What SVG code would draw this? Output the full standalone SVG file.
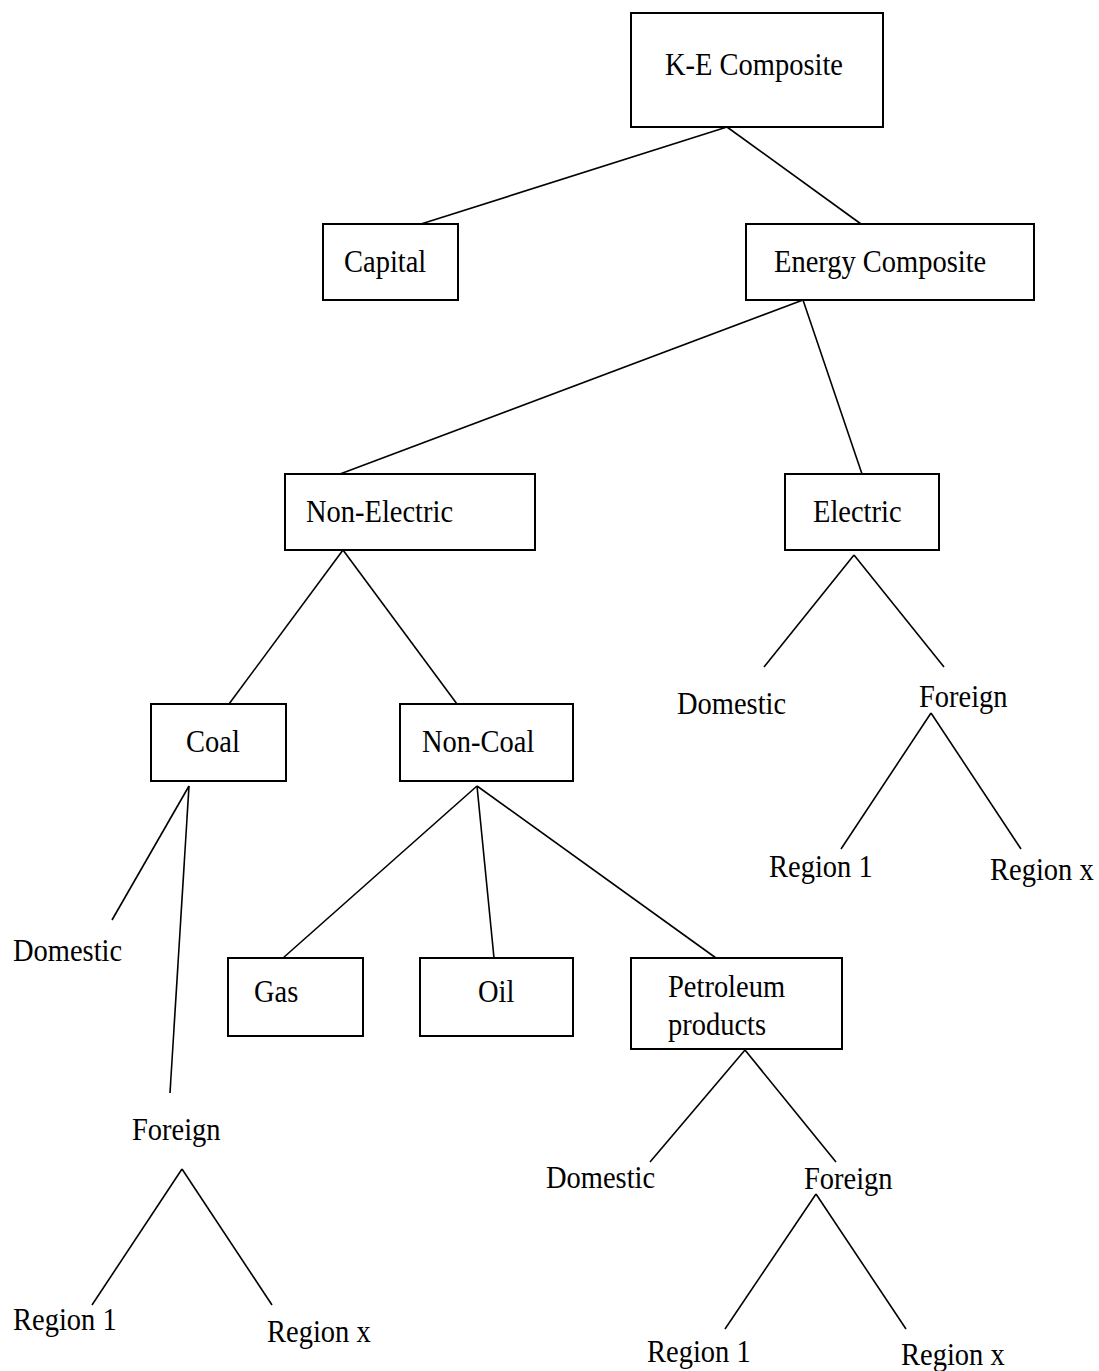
<svg xmlns="http://www.w3.org/2000/svg" width="1099" height="1371" viewBox="0 0 1099 1371">
<style>
.box{fill:#fff;stroke:#000;stroke-width:2}
.ln{stroke:#000;stroke-width:1.6;fill:none}
text{font-family:"Liberation Serif","Times New Roman",serif;font-size:28.5px;fill:#000}
</style>
<rect width="1099" height="1371" fill="#fff"/>
<g id="connectors">
<line class="ln" x1="727" y1="127" x2="421" y2="224"/>
<line class="ln" x1="727" y1="127" x2="861" y2="224"/>
<line class="ln" x1="803" y1="300" x2="340" y2="474"/>
<line class="ln" x1="803" y1="300" x2="862" y2="474"/>
<line class="ln" x1="343" y1="550" x2="229" y2="704"/>
<line class="ln" x1="343" y1="550" x2="457" y2="704"/>
<line class="ln" x1="854" y1="555" x2="764" y2="667"/>
<line class="ln" x1="854" y1="555" x2="944" y2="667"/>
<line class="ln" x1="931" y1="713" x2="841" y2="849"/>
<line class="ln" x1="931" y1="713" x2="1021" y2="849"/>
<line class="ln" x1="189" y1="786" x2="112" y2="920"/>
<line class="ln" x1="189" y1="786" x2="170" y2="1093"/>
<line class="ln" x1="182" y1="1169" x2="92" y2="1305"/>
<line class="ln" x1="182" y1="1169" x2="272" y2="1305"/>
<line class="ln" x1="477" y1="786" x2="283" y2="958"/>
<line class="ln" x1="477" y1="786" x2="494" y2="958"/>
<line class="ln" x1="477" y1="786" x2="716" y2="958"/>
<line class="ln" x1="745" y1="1050" x2="650" y2="1162"/>
<line class="ln" x1="745" y1="1050" x2="836" y2="1162"/>
<line class="ln" x1="816" y1="1194" x2="725" y2="1329"/>
<line class="ln" x1="816" y1="1194" x2="906" y2="1329"/>
</g>
<g id="ke"><rect class="box" x="631" y="13" width="252" height="114"/><text transform="translate(665,75) scale(1,1.1)">K-E Composite</text></g>
<g id="capital"><rect class="box" x="323" y="224" width="135" height="76"/><text transform="translate(344,272) scale(1,1.1)">Capital</text></g>
<g id="energy"><rect class="box" x="746" y="224" width="288" height="76"/><text transform="translate(774,272) scale(1,1.1)">Energy Composite</text></g>
<g id="nonelectric"><rect class="box" x="285" y="474" width="250" height="76"/><text transform="translate(306,522) scale(1,1.1)">Non-Electric</text></g>
<g id="electric"><rect class="box" x="785" y="474" width="154" height="76"/><text transform="translate(813,522) scale(1,1.1)">Electric</text></g>
<g id="el-domestic"><text transform="translate(677,714) scale(1,1.1)">Domestic</text></g>
<g id="el-foreign"><text transform="translate(919,707) scale(1,1.1)">Foreign</text></g>
<g id="el-region1"><text transform="translate(769,877) scale(1,1.1)">Region 1</text></g>
<g id="el-regionx"><text transform="translate(990,880) scale(1,1.1)">Region x</text></g>
<g id="coal"><rect class="box" x="151" y="704" width="135" height="77"/><text transform="translate(186,752) scale(1,1.1)">Coal</text></g>
<g id="noncoal"><rect class="box" x="400" y="704" width="173" height="77"/><text transform="translate(422,752) scale(1,1.1)">Non-Coal</text></g>
<g id="coal-domestic"><text transform="translate(13,961) scale(1,1.1)">Domestic</text></g>
<g id="coal-foreign"><text transform="translate(132,1140) scale(1,1.1)">Foreign</text></g>
<g id="coal-region1"><text transform="translate(13,1330) scale(1,1.1)">Region 1</text></g>
<g id="coal-regionx"><text transform="translate(267,1342) scale(1,1.1)">Region x</text></g>
<g id="gas"><rect class="box" x="228" y="958" width="135" height="78"/><text transform="translate(254,1002) scale(1,1.1)">Gas</text></g>
<g id="oil"><rect class="box" x="420" y="958" width="153" height="78"/><text transform="translate(478,1002) scale(1,1.1)">Oil</text></g>
<g id="petroleum"><rect class="box" x="631" y="958" width="211" height="91"/><text transform="translate(668,997) scale(1,1.1)">Petroleum</text><text transform="translate(668,1035) scale(1,1.1)">products</text></g>
<g id="pp-domestic"><text transform="translate(546,1188) scale(1,1.1)">Domestic</text></g>
<g id="pp-foreign"><text transform="translate(804,1189) scale(1,1.1)">Foreign</text></g>
<g id="pp-region1"><text transform="translate(647,1362) scale(1,1.1)">Region 1</text></g>
<g id="pp-regionx"><text transform="translate(901,1365) scale(1,1.1)">Region x</text></g>
</svg>
